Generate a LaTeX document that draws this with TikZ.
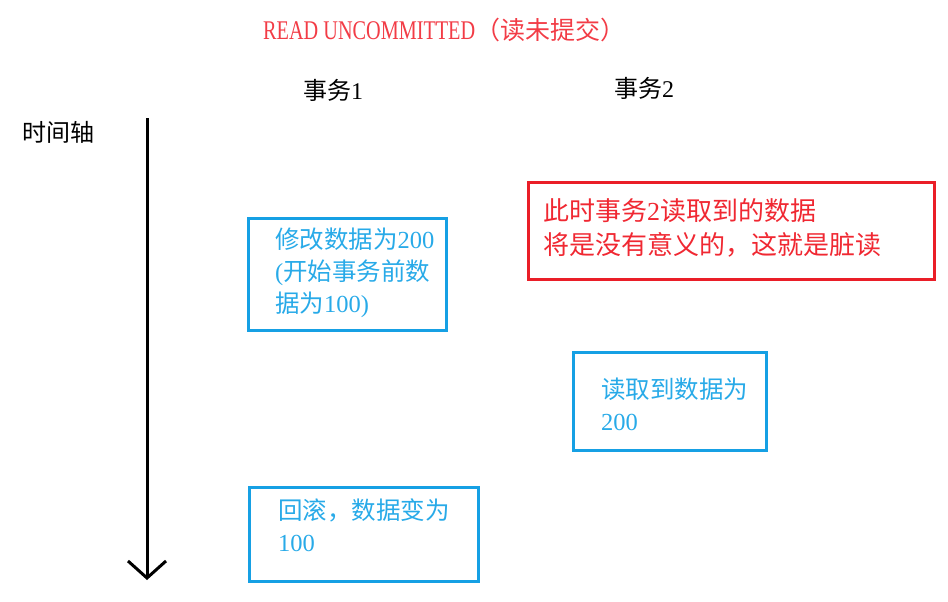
\documentclass[tikz,border=0pt]{standalone}
\usepackage{fontspec}
\setmainfont{Noto Sans CJK SC}
\newfontfamily\lat{Liberation Serif}
\newfontfamily\latc[FakeStretch=0.75]{Liberation Serif}
\usetikzlibrary{arrows.meta}
\definecolor{bxblue}{RGB}{22,160,228}
\definecolor{txblue}{RGB}{40,170,232}
\definecolor{bxred}{RGB}{234,30,40}
\definecolor{txred}{RGB}{240,40,50}
\definecolor{ttred}{RGB}{242,60,70}
\tikzset{
  bluebox/.style={draw=bxblue, line width=3pt, inner sep=0pt},
  redbox/.style={draw=bxred, line width=3pt, inner sep=0pt},
  bluetext/.style={text=txblue, inner sep=0pt, anchor=west, align=left, font=\fontsize{24.5}{32}\selectfont},
  redtext/.style={text=txred, inner sep=0pt, anchor=west, align=left, font=\fontsize{26}{34}\selectfont},
  headtext/.style={text=black, inner sep=0pt, anchor=west, font=\fontsize{24}{28}\selectfont},
  axisline/.style={line width=3pt, -{Straight Barb[length=17pt, width=38pt, line width=3pt]}}
}
\begin{document}
\begin{tikzpicture}[x=1pt, y=-1pt]
\useasboundingbox (0,0) rectangle (948,602);
% title
\node[text=ttred, inner sep=0pt, anchor=west, font=\fontsize{25}{28}\selectfont] (title) at (263,30) {{\fontsize{27}{28}\selectfont\latc READ UNCOMMITTED}（读未提交）};
% headings
\node[headtext] (h1) at (303,90) {事务{\lat 1}};
\node[headtext] (h2) at (614,88) {事务{\lat 2}};
\node[headtext] (axlabel) at (22,132) {时间轴};
% time axis
\coordinate (axtop) at (147,118);
\coordinate (axbot) at (147,580);
\draw[axisline] (axtop) -- (axbot);
% boxes
\node[bluebox, minimum width=198pt, minimum height=112pt] (b1) at (347,274) {};
\node[bluetext] (t1) at (275,273) {修改数据为{\lat 200}\\{\lat (}开始事务前数\\据为{\lat 100)}};
\node[redbox, minimum width=406pt, minimum height=97pt] (r1) at (731,230.5) {};
\node[redtext] (tr) at (543,228) {此时事务{\lat 2}读取到的数据\\将是没有意义的，这就是脏读};
\node[bluebox, minimum width=193pt, minimum height=98pt] (b2) at (669.5,401) {};
\node[bluetext] (t2) at (601,404) {读取到数据为\\{\lat 200}};
\node[bluebox, minimum width=229pt, minimum height=94pt] (b3) at (363.5,534) {};
\node[bluetext] (t3) at (278,525) {回滚，数据变为\\{\lat 100}};
\end{tikzpicture}
\end{document}
